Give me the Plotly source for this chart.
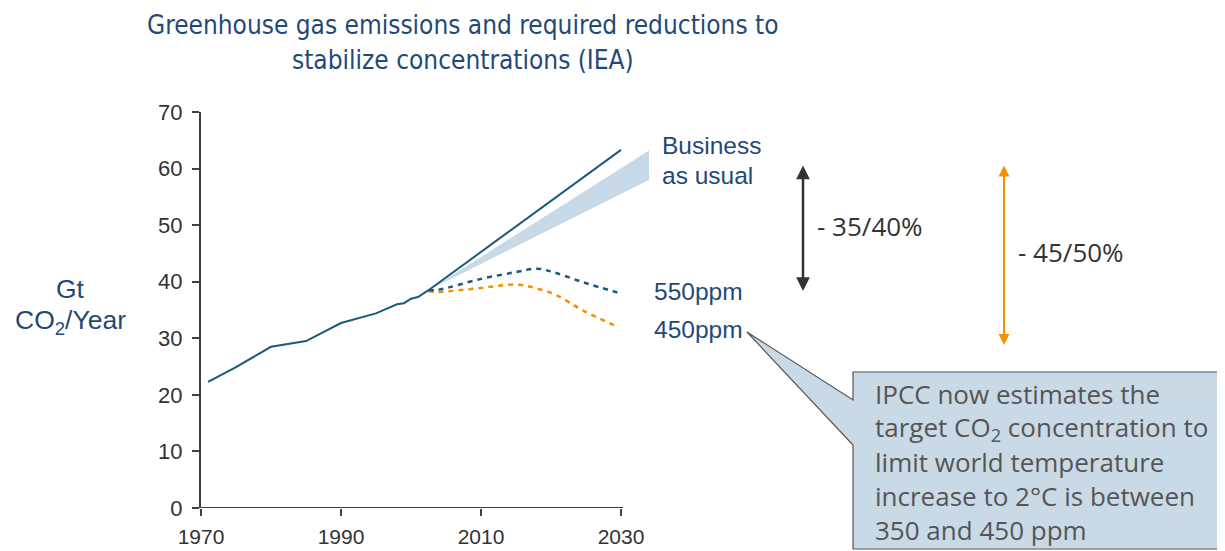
import plotly.graph_objects as go

# ---- data ----
hist_years = [1971, 1975, 1980, 1985, 1990, 1995, 1998, 1999, 2000, 2001, 2002.5]
hist_vals = [22.3, 24.9, 28.5, 29.5, 32.7, 34.4, 36.0, 36.2, 37.0, 37.3, 38.5]

bau_years = [2002.5, 2030]
bau_vals = [38.5, 63.3]

band_years = [2002.5, 2034, 2034, 2002.5]
band_vals = [38.5, 63.2, 58.0, 38.5]

s550_years = [2002.5, 2004, 2010, 2015, 2018, 2020.3, 2024.6, 2030]
s550_vals = [38.5, 38.6, 40.5, 41.7, 42.3, 41.7, 39.9, 37.9]

s450_years = [2002.5, 2004, 2010, 2015, 2018, 2020.8, 2024.6, 2029.6]
s450_vals = [38.3, 38.2, 38.9, 39.5, 38.8, 37.6, 34.9, 32.0]

x_ticks = [1970, 1990, 2010, 2030]
y_ticks = [0, 10, 20, 30, 40, 50, 60, 70]

# ---- layout geometry (screen pixels; the page body adds an 8px offset) ----
OFF = 8
FW, FH = 1225 - OFF, 551 - OFF
L, T, W, H = 201, 112, 455, 396   # plot area on screen


def px(x):
    return (x - L) / W


def py(y):
    return (T + H - y) / H


NAVY = "#1F4A78"
LINE = "#1A5A7E"
ORANGE = "#F39200"
AXIS = "#404040"

fig = go.Figure()
fig.add_trace(go.Scatter(x=band_years, y=band_vals, fill="toself", mode="lines",
                         line=dict(width=0), fillcolor="#C7D9E7", hoverinfo="skip"))
fig.add_trace(go.Scatter(x=s450_years, y=s450_vals, mode="lines",
                         line=dict(color=ORANGE, width=2.5, dash="5px,5px", shape="spline")))
fig.add_trace(go.Scatter(x=s550_years, y=s550_vals, mode="lines",
                         line=dict(color=LINE, width=2.5, dash="5px,5px", shape="spline")))
fig.add_trace(go.Scatter(x=hist_years, y=hist_vals, mode="lines",
                         line=dict(color=LINE, width=2)))
fig.add_trace(go.Scatter(x=bau_years, y=bau_vals, mode="lines",
                         line=dict(color=LINE, width=2)))

fig.update_layout(
    width=FW, height=FH,
    margin=dict(l=L - OFF, r=FW - (L - OFF) - W, t=T - OFF, b=FH - (T - OFF) - H, pad=0),
    paper_bgcolor="white", plot_bgcolor="white",
    showlegend=False,
    xaxis=dict(range=[1970, 2035], tickvals=x_ticks, showgrid=False, zeroline=False,
               showline=False, ticks="outside", ticklen=7, tickwidth=2, tickcolor=AXIS,
               ticklabelstandoff=3, automargin=False,
               tickfont=dict(family="Liberation Sans, Arial", size=21, color="#333333")),
    yaxis=dict(range=[0, 70], tickvals=y_ticks, showgrid=False, zeroline=False,
               showline=True, linecolor=AXIS, linewidth=2,
               ticks="outside", ticklen=7, tickwidth=2, tickcolor=AXIS,
               ticklabelstandoff=5, automargin=False,
               tickfont=dict(family="Liberation Sans, Arial", size=22, color="#333333")),
)

shapes = []
# x axis line (stops at 2030)
shapes.append(dict(type="line", xref="x", yref="y", x0=1969.9, x1=2030.3, y0=0, y1=0,
                   line=dict(color=AXIS, width=2)))
# callout box with pointer
pts = [(853, 372), (1228, 372), (1228, 549), (853, 549), (853, 445), (747, 332), (853, 400)]
path = "M " + " L ".join(f"{px(a):.4f},{py(b):.4f}" for a, b in pts) + " Z"
shapes.append(dict(type="path", xref="paper", yref="paper", path=path,
                   fillcolor="#C9D9E6", line=dict(color="#555555", width=1.2), layer="above"))
fig.update_layout(shapes=shapes)

ann = []


def text(x, y, s, size, color, family, xanchor="left"):
    ann.append(dict(x=px(x), y=py(y), xref="paper", yref="paper", text=s, showarrow=False,
                    xanchor=xanchor, yanchor="middle",
                    font=dict(size=size, color=color, family=family)))


TITLE_FONT = "DejaVu Sans Condensed, Roboto, Arial"
text(463, 25, "Greenhouse gas emissions and required reductions to", 26, NAVY, TITLE_FONT, "center")
text(463, 60, "stabilize concentrations (IEA)", 26, NAVY, TITLE_FONT, "center")

ARIAL = "Liberation Sans, Arial"
text(70, 289, "Gt", 26.5, NAVY, ARIAL, "center")
text(70, 322, "CO<sub>2</sub>/Year", 26.5, NAVY, ARIAL, "center")
text(660, 145, "Business", 24.5, NAVY, ARIAL)
text(660, 175, "as usual", 24.5, NAVY, ARIAL)
text(652, 291, "550ppm", 24.5, NAVY, ARIAL)
text(652, 329, "450ppm", 24.5, NAVY, ARIAL)

ALT = "Open Sans, Noto Sans, Arial"
text(815, 226, "- 35/40%", 26, "#333333", ALT)
text(1016, 252, "- 45/50%", 26, "#333333", ALT)

callout = ["IPCC now estimates the",
           "target CO<sub>2</sub> concentration to",
           "limit world temperature",
           "increase to 2°C is between",
           "350 and 450 ppm"]
for i, line in enumerate(callout):
    text(873, 394 + 34 * i, line, 26, "#555555", ALT)

# double-headed arrows
for x, y0, y1, col, w in [(803, 164, 291, "#333333", 2.5), (1004, 164, 345, ORANGE, 2)]:
    ann.append(dict(x=px(x), y=py(y1), xref="paper", yref="paper", ax=0, ay=-(y1 - y0),
                    text="", showarrow=True, arrowhead=2, startarrowhead=2,
                    arrowside="end+start", arrowsize=1.1, startarrowsize=1.1,
                    arrowwidth=w, arrowcolor=col))

fig.update_layout(annotations=ann)
fig.write_html("out.html")
